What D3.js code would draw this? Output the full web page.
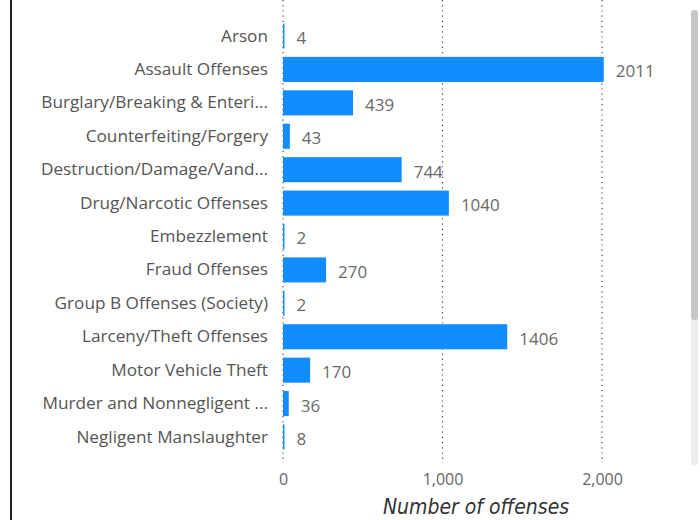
<!DOCTYPE html>
<html><head><meta charset="utf-8">
<script src="https://cdn.jsdelivr.net/npm/d3@7"></script>
<style>html,body{margin:0;padding:0;background:#fff;}svg{display:block;}</style>
</head><body>
<svg id="c" width="700" height="520"></svg>
<script>
const categories = ["Arson","Assault Offenses","Burglary/Breaking & Enteri...","Counterfeiting/Forgery","Destruction/Damage/Vand...","Drug/Narcotic Offenses","Embezzlement","Fraud Offenses","Group B Offenses (Society)","Larceny/Theft Offenses","Motor Vehicle Theft","Murder and Nonnegligent ...","Negligent Manslaughter"];
const values = [4,2011,439,43,744,1040,2,270,2,1406,170,36,8];
const tickValues = [0,1000,2000];
const axisTitle = "Number of offenses";

const svg = d3.select("#c");
const font = "'Segoe UI','Open Sans','Noto Sans',sans-serif";

// frame border & scrollbar
svg.append("rect").attr("x",10).attr("y",0).attr("width",2).attr("height",520).attr("fill","#222");
svg.append("rect").attr("x",691).attr("y",10).attr("width",7).attr("height",455).attr("rx",3).attr("fill","#ececec");
svg.append("rect").attr("x",691).attr("y",10).attr("width",7).attr("height",310).attr("rx",3).attr("fill","#c6c6c6");

const x = d3.scaleLinear().domain([0,2250]).range([283,283+2250*0.1595]);
const y = d3.scaleBand().domain(categories).range([19.3,453.7]).paddingInner(0.25).paddingOuter(0.125);

// gridlines
svg.append("g").selectAll("line").data(tickValues).join("line")
  .attr("x1",d=>x(d)).attr("x2",d=>x(d)).attr("y1",0).attr("y2",463)
  .attr("stroke","#444").attr("stroke-width",1.2).attr("stroke-dasharray","1.2,4");

// axis (ticks labels only)
const xAxis = d3.axisBottom(x).tickValues(tickValues).tickFormat(d3.format(",")).tickSize(0).tickPadding(0);
const ax = svg.append("g").attr("transform","translate(0,474)").call(xAxis);
ax.select(".domain").remove();
ax.selectAll("text").attr("font-family",font).attr("font-size",16).attr("fill","#666");

const yAxis = d3.axisLeft(y).tickSize(0).tickPadding(0);
const ay = svg.append("g").attr("transform","translate(268,0)").call(yAxis);
ay.select(".domain").remove();
ay.selectAll("text").attr("font-family",font).attr("font-size",17.2).attr("fill","#555");

// bars
svg.append("g").selectAll("rect").data(values).join("rect")
  .attr("x",x(0)).attr("y",(d,i)=>y(categories[i]))
  .attr("width",d=>Math.max(x(d)-x(0),1.5)).attr("height",y.bandwidth())
  .attr("fill","#118dff");

// value labels
svg.append("g").selectAll("text").data(values).join("text")
  .attr("x",d=>Math.max(x(d),x(0)+1.5)+12).attr("y",(d,i)=>y(categories[i])+y.bandwidth()/2+2)
  .attr("dy","0.35em").attr("font-family",font).attr("font-size",17).attr("fill","#6a6a6a")
  .text(d=>d);

// axis title
svg.append("text").attr("x",476).attr("y",514).attr("text-anchor","middle")
  .attr("font-family","'DejaVu Sans Condensed','Roboto',sans-serif").attr("font-style","italic")
  .attr("font-size",21).attr("fill","#333").text(axisTitle);
</script>
</body></html>
